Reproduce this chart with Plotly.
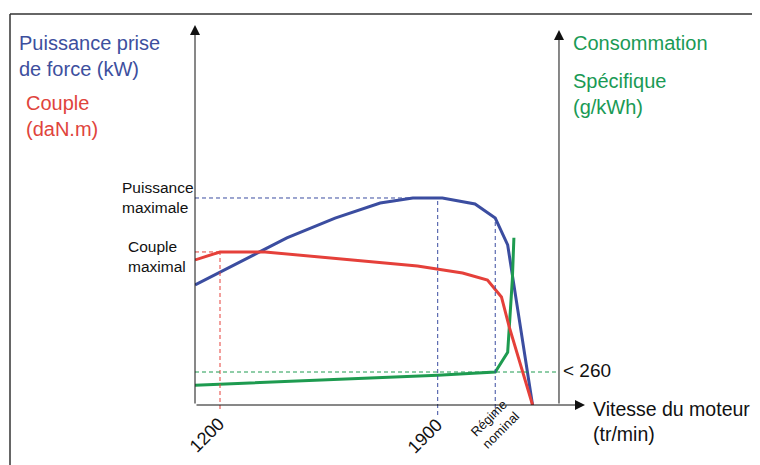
import plotly.graph_objects as go

# ---------------- data ----------------
rpm_power = [1120, 1415, 1570, 1715, 1820, 1915, 2020, 2085, 2125, 2205]
power_kw = [58, 80.7, 90.3, 97.6, 100, 100, 97.1, 90.3, 77.3, 0]

rpm_torque = [1120, 1200, 1345, 1715, 1835, 1980, 2060, 2105, 2130, 2205]
torque_dam = [47.4, 50, 50, 46.4, 45.4, 43.1, 40.8, 35.3, 25.5, 0]

rpm_conso = [1120, 1715, 1900, 2085, 2125, 2140, 2145]
conso_gkwh = [248, 254.5, 257, 260, 278, 344, 382]

rpm_max_torque = 1200
rpm_max_power = 1900
rpm_nominal = 2085
conso_ref = 260
tick_labels = ["1200", "1900", "Régime<br>nominal"]

# ---------------- styling ----------------
BLUE = "#3B4DA0"
RED = "#E5403A"
GREEN = "#1E9B50"
BLUE_T = "#3D4F9E"
RED_T = "#E0443C"
GREEN_T = "#1A9A55"
FONT = "Liberation Sans, Arial, sans-serif"
DASH = "4px,3px"

X_RANGE = [1119.6, 2367.2]
Y_RANGE = [0, 182.6]       # power (kW)
Y3_RANGE = [0, 123.5]      # torque (daN.m)
Y2_RANGE = [230, 573.6]    # specific consumption (g/kWh)
RIGHT_AXIS_RPM = 2290

OFF = 8  # page body margin
SCREEN_W, SCREEN_H = 760, 465
W, H = SCREEN_W - OFF, SCREEN_H - OFF
ML, MT = 195 - OFF, 27 - OFF
PW, PH = 388, 378
MR = W - ML - PW
MB = H - MT - PH


def px(xs):
    """screen pixel x -> paper fraction"""
    return (xs - OFF - ML) / PW


def py(ys):
    """screen pixel y -> paper fraction"""
    return (MT + PH - (ys - OFF)) / PH


fig = go.Figure()
fig.add_trace(go.Scatter(x=rpm_torque, y=torque_dam, mode="lines", yaxis="y3",
                         line=dict(color=RED, width=3), hoverinfo="skip"))
fig.add_trace(go.Scatter(x=rpm_power, y=power_kw, mode="lines", yaxis="y",
                         line=dict(color=BLUE, width=3), hoverinfo="skip"))
fig.add_trace(go.Scatter(x=rpm_conso, y=conso_gkwh, mode="lines", yaxis="y2",
                         line=dict(color=GREEN, width=3), hoverinfo="skip"))

pmax = max(power_kw)
tmax = max(torque_dam)
p_nom = power_kw[rpm_power.index(rpm_nominal)]
below = -10 / PH

shapes = [
    # frame (top and left)
    dict(type="line", xref="paper", yref="paper", x0=px(10), x1=px(SCREEN_W + 5), y0=py(14), y1=py(14),
         line=dict(color="#333333", width=1.5)),
    dict(type="line", xref="paper", yref="paper", x0=px(10), x1=px(10), y0=py(14), y1=py(SCREEN_H + 5),
         line=dict(color="#333333", width=1.5)),
    # max power
    dict(type="line", xref="x", yref="y", x0=X_RANGE[0], x1=rpm_max_power, y0=pmax, y1=pmax,
         line=dict(color=BLUE, width=1, dash=DASH)),
    dict(type="line", xref="x", yref="paper", x0=rpm_max_power, x1=rpm_max_power,
         y0=below, y1=(pmax - Y_RANGE[0]) / (Y_RANGE[1] - Y_RANGE[0]),
         line=dict(color=BLUE, width=1, dash=DASH)),
    # nominal
    dict(type="line", xref="x", yref="paper", x0=rpm_nominal, x1=rpm_nominal,
         y0=below, y1=(p_nom - Y_RANGE[0]) / (Y_RANGE[1] - Y_RANGE[0]),
         line=dict(color=BLUE, width=1, dash=DASH)),
    # max torque
    dict(type="line", xref="x", yref="y3", x0=X_RANGE[0], x1=rpm_max_torque, y0=tmax, y1=tmax,
         line=dict(color=RED, width=1, dash=DASH)),
    dict(type="line", xref="x", yref="paper", x0=rpm_max_torque, x1=rpm_max_torque,
         y0=-4 / PH, y1=(tmax - Y3_RANGE[0]) / (Y3_RANGE[1] - Y3_RANGE[0]),
         line=dict(color=RED, width=1, dash=DASH)),
    # consumption reference
    dict(type="line", xref="x", yref="y2", x0=X_RANGE[0], x1=RIGHT_AXIS_RPM, y0=conso_ref, y1=conso_ref,
         line=dict(color=GREEN, width=1, dash=DASH)),
]

ann = []
# axes with arrows
ann.append(dict(xref="x", yref="paper", x=X_RANGE[0], y=py(25), ax=0, ay=380, text="",
                showarrow=True, arrowhead=2, arrowsize=2, arrowwidth=1, arrowcolor="#111"))
ann.append(dict(xref="x", yref="paper", x=RIGHT_AXIS_RPM, y=py(30), ax=0, ay=375, text="",
                showarrow=True, arrowhead=2, arrowsize=2, arrowwidth=1, arrowcolor="#111"))
ann.append(dict(xref="paper", yref="paper", x=px(585), y=0, ax=-390, ay=0, text="",
                showarrow=True, arrowhead=2, arrowsize=2, arrowwidth=1, arrowcolor="#111"))


def label(text, x, y, size, color="#111", xanchor="left", angle=0, align="left"):
    ann.append(dict(xref="paper", yref="paper", x=px(x), y=py(y), text=text, showarrow=False,
                    xanchor=xanchor, yanchor="middle", align=align, textangle=angle,
                    font=dict(family=FONT, size=size, color=color)))


label("Puissance prise<br>de force (kW)", 17, 56, 20, BLUE_T)
label("Couple<br>(daN.m)", 24, 116, 20, RED_T)
label("Puissance<br>maximale", 120, 197, 15.5)
label("Couple<br>maximal", 126, 256, 15.5)
label("Consommation", 571, 43, 20, GREEN_T)
label("Spécifique<br>(g/kWh)", 571, 94, 20, GREEN_T)
label("&lt; 260", 561, 370, 19)
label("Vitesse du moteur<br>(tr/min)", 591, 422, 19.5)
label(tick_labels[0], 207, 435, 18, xanchor="center", angle=-45)
label(tick_labels[1], 425, 436, 18, xanchor="center", angle=-45)
label(tick_labels[2], 495, 424, 13, xanchor="center", angle=-45, align="center")

fig.update_layout(
    width=W, height=H,
    margin=dict(l=ML, r=MR, t=MT, b=MB),
    paper_bgcolor="white", plot_bgcolor="white",
    showlegend=False,
    xaxis=dict(range=X_RANGE, visible=False, fixedrange=True),
    yaxis=dict(range=Y_RANGE, visible=False, fixedrange=True),
    yaxis2=dict(range=Y2_RANGE, visible=False, overlaying="y", fixedrange=True),
    yaxis3=dict(range=Y3_RANGE, visible=False, overlaying="y", fixedrange=True),
    shapes=shapes,
    annotations=ann,
)

fig.write_html("out.html")
